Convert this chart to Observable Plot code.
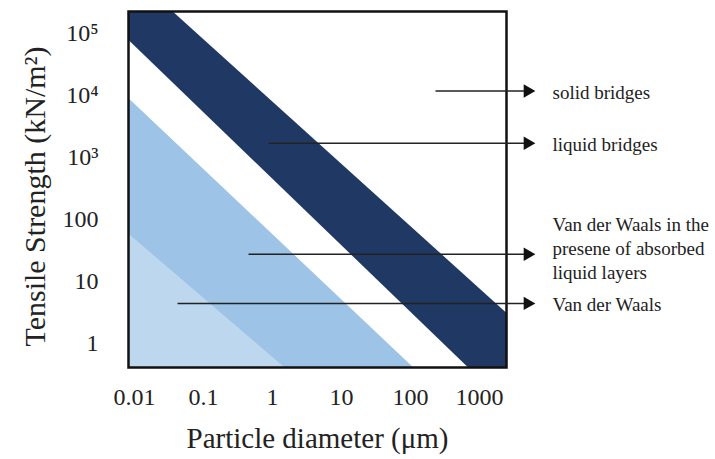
<!DOCTYPE html>
<html>
<head>
<meta charset="utf-8">
<script src="https://cdn.jsdelivr.net/npm/d3@7"></script>
<script src="https://cdn.jsdelivr.net/npm/@observablehq/plot@0.6"></script>
<style>
  html, body { margin: 0; padding: 0; background: #ffffff; }
</style>
</head>
<body>
<div id="chart"></div>
<script>
// ---- scales / ticks ----
const xDomain = [0.00819, 2460];
const yDomain = [0.402, 222000];
const xTicks = [0.01, 0.1, 1, 10, 100, 1000];
const xTickLabels = ["0.01", "0.1", "1", "10", "100", "1000"];
const yTicks = [1, 10, 100, 1000, 10000, 100000];
const yTickLabels = ["1", "10", "100", "10³", "10⁴", "10⁵"];

// ---- region boundaries (tensile strength at the two ends of each edge) ----
const edgeX = [0.008, 2500];
const liquidBridgesUpper = [1.0e6, 3.0];
const liquidBridgesLower = [79000, 0.10];
const absorbedLayersUpper = [9100, 0.015];
const vanDerWaalsUpper = [59, 0.00034];
const bandColors = ["#203864", "#ffffff", "#9dc3e6", "#bdd7ee"];

// ---- annotations ----
const labels = [
  "solid bridges",
  "liquid bridges",
  "Van der Waals in the\npresene of absorbed\nliquid layers",
  "Van der Waals"
];
const arrowY = [11560, 1671, 26.9, 4.35];
const arrowStartX = [230, 0.875, 0.449, 0.042];
const arrowEndX = [4970, 4970, 4970, 4970];
const labelX = [11430, 11430, 11430, 11430];
const labelY = [11560, 1671, 34.9, 4.35];

const xTitle = "Particle diameter (μm)";
const yTitle = "Tensile Strength (kN/m²)";

// ---- build tables ----
const edges = [liquidBridgesUpper, liquidBridgesLower, absorbedLayersUpper, vanDerWaalsUpper];
const bandMarks = edges.map((edge, k) =>
  Plot.areaY(edgeX.map((x, i) => ({x, y: edge[i]})), {
    x: "x",
    y1: () => yDomain[0] / 10,
    y2: "y",
    fill: bandColors[k],
    clip: true
  })
);
const arrows = labels.map((label, i) => ({
  label,
  x1: arrowStartX[i],
  x2: arrowEndX[i],
  y: arrowY[i],
  lx: labelX[i],
  ly: labelY[i]
}));

const chart = Plot.plot({
  width: 715,
  height: 459,
  marginLeft: 128,
  marginRight: 209,
  marginTop: 11,
  marginBottom: 92,
  style: {fontFamily: "'Liberation Serif', 'Times New Roman', serif", fontSize: "24px", color: "#222", background: "#ffffff"},
  x: {
    type: "log",
    domain: xDomain,
    ticks: xTicks,
    tickFormat: d => xTickLabels[xTicks.indexOf(d)],
    tickSize: 0,
    tickPadding: 20,
    label: null
  },
  y: {
    type: "log",
    domain: yDomain,
    ticks: yTicks,
    tickFormat: d => yTickLabels[yTicks.indexOf(d)],
    tickSize: 0,
    tickPadding: 30,
    label: null
  },
  marks: [
    ...bandMarks,
    Plot.frame({stroke: "#111", strokeWidth: 2.5}),
    Plot.link(arrows, {x1: "x1", x2: "x2", y1: "y", y2: "y", stroke: "#222", strokeWidth: 1.5}),
    Plot.dot(arrows, {x: "x2", y: "y", symbol: "triangle", rotate: 90, r: 5, fill: "#111", stroke: "none"}),
    Plot.text(arrows, {x: "lx", y: "ly", text: "label", textAnchor: "start", lineAnchor: "middle", lineHeight: 1.25, fontSize: 19, fill: "#222"}),
    Plot.text([xTitle], {text: d => d, frameAnchor: "bottom", textAnchor: "middle", lineAnchor: "middle", dy: 71, fontSize: 29, fill: "#222"}),
    Plot.text([yTitle], {text: d => d, frameAnchor: "left", textAnchor: "middle", lineAnchor: "middle", rotate: -90, dx: -93, dy: 7, fontSize: 30, fill: "#222"})
  ]
});
document.getElementById("chart").appendChild(chart);
</script>
</body>
</html>
